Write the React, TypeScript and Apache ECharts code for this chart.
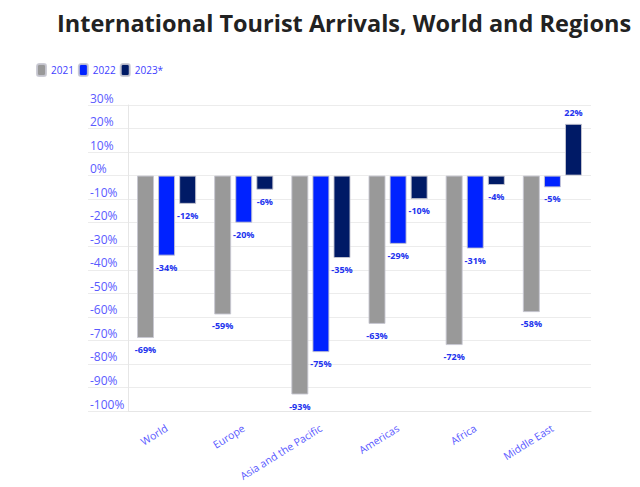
import React, { useEffect, useRef } from "react";
import * as echarts from "echarts";

const categories = ["World", "Europe", "Asia and the Pacific", "Americas", "Africa", "Middle East"];
const values2021 = [-69, -59, -93, -63, -72, -58];
const values2022 = [-34, -20, -75, -29, -31, -5];
const values2023 = [-12, -6, -35, -10, -4, 22];
const seriesNames = ["2021", "2022", "2023*"];
const seriesColors = ["#999999", "#0022ff", "#001a66"];

const FONT = "'Open Sans', 'Noto Sans', sans-serif";

function makeData(vals: number[]) {
  return vals.map((v) => ({
    value: v,
    label: { position: v < 0 ? "bottom" : "top" },
  }));
}

export default function App() {
  const ref = useRef<HTMLDivElement>(null);
  useEffect(() => {
    if (!ref.current) return;
    const chart = echarts.init(ref.current, undefined, { renderer: "svg" });
    const all = [values2021, values2022, values2023];
    chart.setOption({
      animation: false,
      title: {
        text: "International Tourist Arrivals, World and Regions",
        left: 52,
        top: 6,
        textStyle: { fontFamily: FONT, fontSize: 23.5, fontWeight: "bold", color: "#222222" },
      },
      legend: {
        left: 36,
        top: 63,
        padding: 0,
        itemWidth: 9,
        itemHeight: 12,
        itemGap: 4,
        icon: "roundRect",
        textStyle: { fontFamily: FONT, fontSize: 10, color: "#4040ff" },
        data: seriesNames,
      },
      grid: { left: 128, right: 49, top: 105, bottom: 76, containLabel: false },
      xAxis: {
        type: "category",
        data: categories,
        axisLine: { onZero: false, lineStyle: { color: "#e6e6e6" } },
        axisTick: { alignWithLabel: true, length: 5, lineStyle: { color: "#e6e6e6" } },
        axisLabel: {
          rotate: 32,
          interval: 0,
          margin: 16,
          fontFamily: FONT,
          fontSize: 10.5,
          color: "#5a5aff",
        },
      },
      yAxis: {
        type: "value",
        min: -100,
        max: 30,
        interval: 10,
        axisLine: { show: true, lineStyle: { color: "#e6e6e6" } },
        axisTick: { show: true, length: 40, lineStyle: { color: "#ececec" } },
        splitLine: { lineStyle: { color: "#ececec" } },
        axisLabel: {
          formatter: "{value}%",
          align: "left",
          verticalAlign: "bottom",
          margin: 38,
          padding: [0, 0, 1, 0],
          fontFamily: FONT,
          fontSize: 12,
          color: "#5a5aff",
        },
      },
      series: seriesNames.map((name, i) => ({
        name,
        type: "bar",
        data: makeData(all[i]),
        barWidth: 17,
        barGap: "24%",
        itemStyle: {
          color: seriesColors[i],
          borderColor: "rgba(200,200,210,0.9)",
          borderWidth: 1,
        },
        label: {
          show: true,
          formatter: "{c}%",
          distance: 7,
          fontFamily: FONT,
          fontSize: 9,
          fontWeight: "bold",
          color: "#2233ee",
        },
      })),
    });
    return () => chart.dispose();
  }, []);
  return (
    <div
      ref={ref}
      style={{ position: "absolute", left: 0, top: 0, width: 640, height: 487 }}
    />
  );
}
